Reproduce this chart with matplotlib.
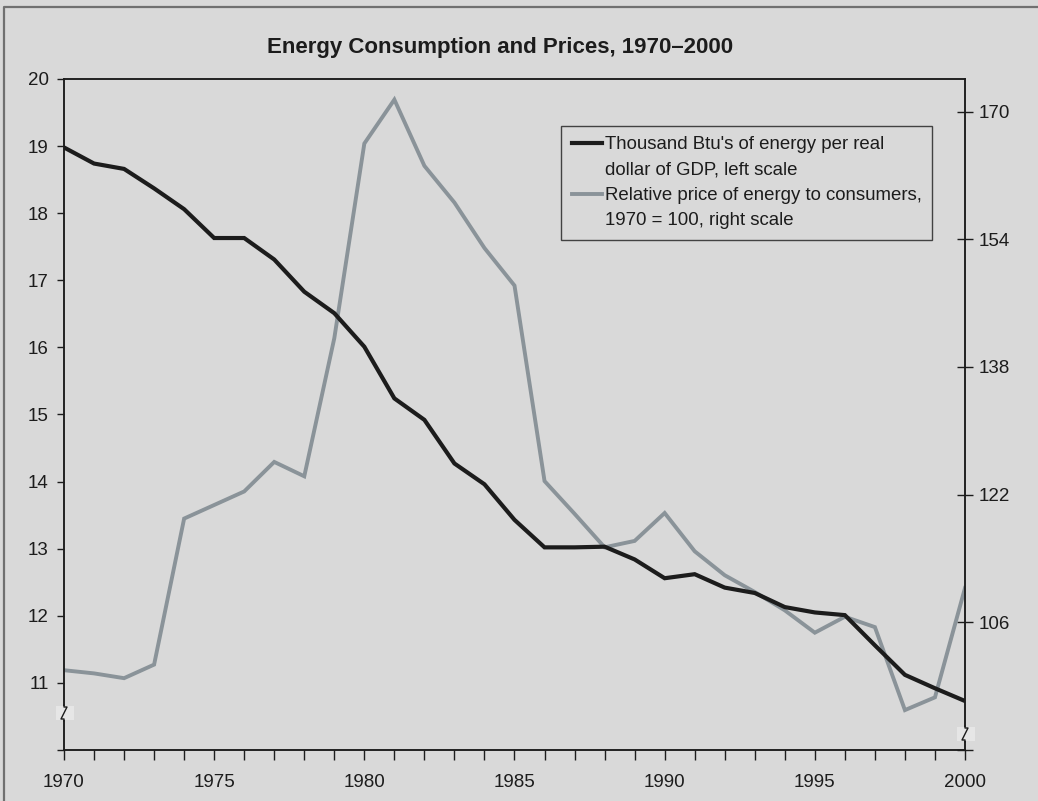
import matplotlib.pyplot as plt
from matplotlib.lines import Line2D
from matplotlib.patches import Rectangle
from matplotlib.ticker import MultipleLocator, FixedLocator

plt.rcParams['font.family'] = ['Liberation Sans', 'DejaVu Sans']

years = list(range(1970, 2001))
# thousand Btu per real dollar of GDP (left scale)
btu = [18.98, 18.74, 18.66, 18.37, 18.06, 17.63, 17.63, 17.31, 16.83, 16.51,
       16.01, 15.24, 14.92, 14.27, 13.96, 13.43, 13.02, 13.02, 13.03, 12.84,
       12.56, 12.62, 12.42, 12.34, 12.13, 12.05, 12.01, 11.56, 11.12, 10.92,
       10.73]
# relative price of energy, 1970 = 100 (right scale)
price = [100.0, 99.6, 99.0, 100.7, 119.0, 120.7, 122.4, 126.1, 124.3, 141.6,
         166.0, 171.5, 163.2, 158.6, 152.9, 148.2, 123.7, 119.6, 115.4, 116.2,
         119.7, 114.9, 111.9, 109.8, 107.5, 104.7, 106.7, 105.4, 95.0, 96.6,
         110.3]
left_ticks = [10, 11, 12, 13, 14, 15, 16, 17, 18, 19, 20]
right_ticks = [90, 106, 122, 138, 154, 170]
title = "Energy Consumption and Prices, 1970\u20132000"
lab1 = ["Thousand Btu's of energy per real", "dollar of GDP, left scale"]
lab2 = ["Relative price of energy to consumers,", "1970 = 100, right scale"]

W, H = 1038, 801
bg = '#d9d9d9'
dark = '#1c1c1c'
grey = '#8a9399'

fig = plt.figure(figsize=(W / 100, H / 100), dpi=100, facecolor=bg)
ax = fig.add_axes([64 / W, 1 - 750 / H, 901 / W, 671 / H])
ax.set_facecolor(bg)
ax2 = ax.twinx()

ax.plot(years, btu, color=dark, lw=3.0, solid_joinstyle='miter', zorder=3)
ax2.plot(years, price, color=grey, lw=2.8, solid_joinstyle='miter', zorder=2)
ax.set_zorder(ax2.get_zorder() + 1)
ax.patch.set_visible(False)
ax2.patch.set_facecolor(bg)

ax.set_xlim(1970, 2000)
ax.set_ylim(10, 20)
ax2.set_ylim(90, 90 + 671 / 7.98)

ax.xaxis.set_major_locator(MultipleLocator(5))
ax.xaxis.set_minor_locator(MultipleLocator(1))
ax.yaxis.set_major_locator(FixedLocator(left_ticks))
ax.set_yticklabels([''] + [str(t) for t in left_ticks[1:]])
ax2.yaxis.set_major_locator(FixedLocator(right_ticks))
ax2.set_yticklabels([''] + [str(t) for t in right_ticks[1:]])

for a in (ax, ax2):
    for s in a.spines.values():
        s.set_color(dark)
        s.set_linewidth(1.1)
ax.tick_params(axis='x', which='both', direction='out', length=7, width=1.0,
               color=dark, labelsize=13.5, labelcolor=dark, pad=10)
ax.tick_params(axis='y', direction='out', length=5, width=1.0, color=dark,
               labelsize=13.5, labelcolor=dark, pad=6)
ax2.tick_params(axis='y', direction='inout', length=11, width=1.0, color=dark,
                labelsize=13.5, labelcolor=dark, pad=4)

fig.text(500 / W, 1 - 48 / H, title, ha='center', va='center',
         fontsize=16, fontweight='bold', color=dark)

handles = [Line2D([], [], color=dark, lw=3.0),
           Line2D([], [], color='none'),
           Line2D([], [], color=grey, lw=2.8),
           Line2D([], [], color='none')]
leg = ax.legend(handles, lab1 + lab2, loc='upper left',
                bbox_to_anchor=(0.552, 0.930), borderaxespad=0,
                fontsize=13.4, frameon=True, fancybox=False,
                handlelength=1.65, handletextpad=0.15, labelspacing=0.45,
                borderpad=0.55)
leg.get_frame().set_facecolor(bg)
leg.get_frame().set_edgecolor(dark)
leg.get_frame().set_linewidth(1.0)
for t in leg.get_texts():
    t.set_color(dark)


def fx(x):
    return x / W


def fy(y):
    return 1 - y / H


# axis break marks
for (xa, yb) in [(64, 713), (965, 734)]:
    fig.add_artist(Rectangle((fx(xa - 8), fy(yb + 7)), 18 / W, 14 / H,
                             transform=fig.transFigure, facecolor='#e6e6e6',
                             edgecolor='none', zorder=10))
    fig.add_artist(Line2D([fx(xa), fx(xa), fx(xa + 3), fx(xa - 3), fx(xa), fx(xa)],
                          [fy(yb - 8), fy(yb - 6), fy(yb - 6), fy(yb + 6), fy(yb + 6), fy(yb + 8)],
                          transform=fig.transFigure, color=dark, lw=1.0, zorder=11))

# outer frame, top and left
fig.add_artist(Line2D([fx(4), fx(4), fx(W)], [0, fy(6.5), fy(6.5)],
                      transform=fig.transFigure, color='#707070', lw=1.6))

fig.savefig('out.png', dpi=100, facecolor=bg)
